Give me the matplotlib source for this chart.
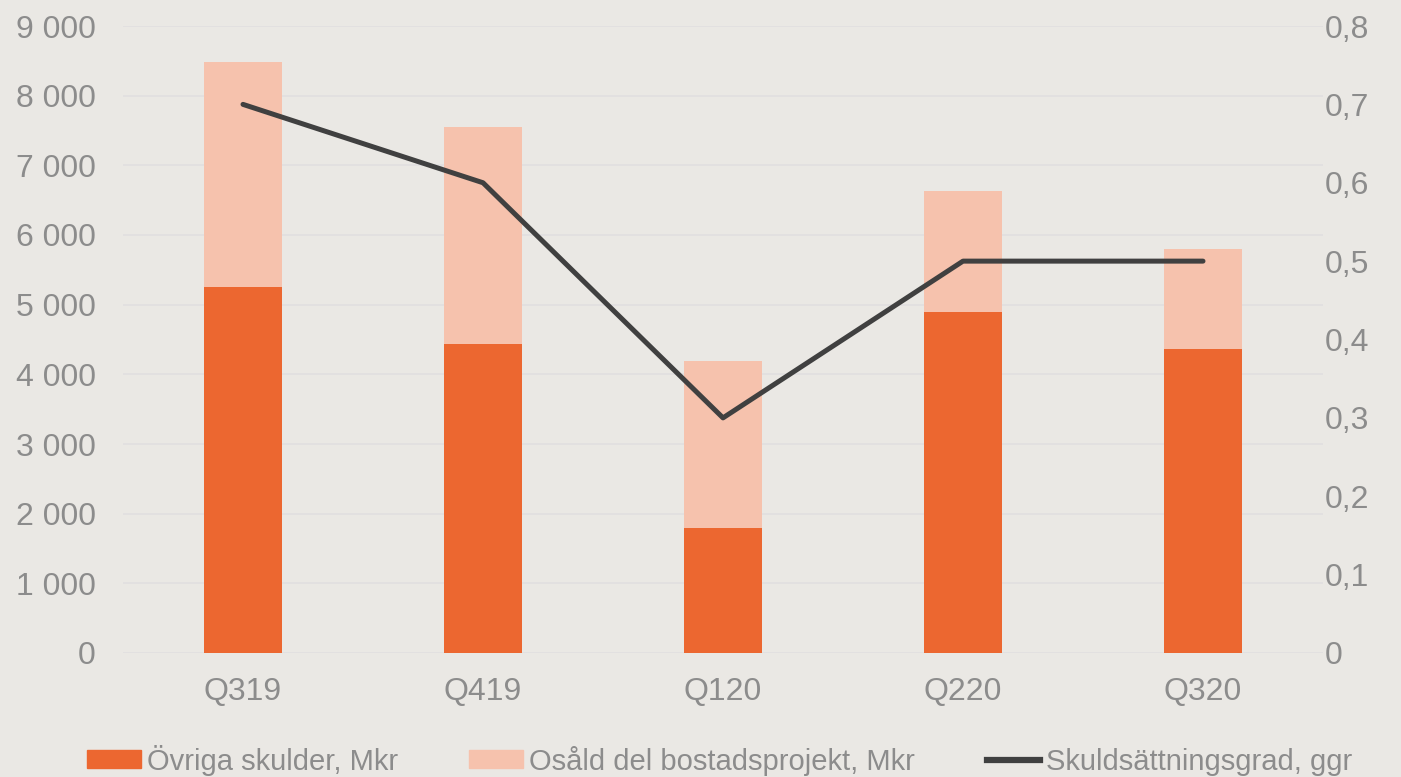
import matplotlib.pyplot as plt
import matplotlib.ticker as mticker
from matplotlib.lines import Line2D
from matplotlib.patches import Patch

plt.rcParams['font.family'] = ['Liberation Sans', 'DejaVu Sans']

# data
quarters = ['Q319', 'Q419', 'Q120', 'Q220', 'Q320']
ovriga = [5250, 4435, 1795, 4895, 4365]
osald = [3230, 3115, 2395, 1735, 1435]
skuld_grad = [0.7, 0.6, 0.3, 0.5, 0.5]

bg = '#EAE8E4'
dark_orange = '#EC6730'
light_orange = '#F6C2AD'
line_col = '#404040'
txt_col = '#8C8C8C'
grid_col = '#E1DFE0'

fig = plt.figure(figsize=(14.01, 7.77), dpi=100, facecolor=bg)
ax = fig.add_axes([123 / 1401, 124 / 777, 1200 / 1401, 627 / 777])
ax.set_facecolor(bg)

x = list(range(len(quarters)))
ax.bar(x, ovriga, width=0.325, color=dark_orange, zorder=2)
ax.bar(x, osald, width=0.325, bottom=ovriga, color=light_orange, zorder=2)

ax.set_xlim(-0.5, 4.5)
ax.set_ylim(0, 9000)
ax.set_yticks(range(0, 9001, 1000))
ax.yaxis.set_major_formatter(mticker.FuncFormatter(lambda v, p: f'{int(v):,}'.replace(',', ' ')))
ax.set_xticks(x)
ax.set_xticklabels(quarters)
ax.grid(axis='y', color=grid_col, linewidth=1.2, zorder=0)
for s in ax.spines.values():
    s.set_visible(False)
ax.tick_params(axis='y', length=0, pad=19.5, labelsize=23, labelcolor=txt_col)
ax.tick_params(axis='x', length=0, pad=17, labelsize=23, labelcolor=txt_col)

ax2 = ax.twinx()
ax2.plot(x, skuld_grad, color=line_col, linewidth=3.6, solid_capstyle='round', zorder=3)
ax2.set_ylim(0, 0.8)
ax2.set_yticks([i / 10 for i in range(9)])
ax2.yaxis.set_major_formatter(mticker.FuncFormatter(lambda v, p: f'{v:.1f}'.replace('.', ',') if v > 0 else '0'))
for s in ax2.spines.values():
    s.set_visible(False)
ax2.tick_params(axis='y', length=0, pad=1.5, labelsize=23, labelcolor=txt_col)

handles = [
    Patch(color=dark_orange),
    Patch(color=light_orange),
    Line2D([0], [0], color=line_col, linewidth=4.5),
]
labels = ['Övriga skulder, Mkr', 'Osåld del bostadsprojekt, Mkr', 'Skuldsättningsgrad, ggr']
leg = fig.legend(handles, labels, loc='center left', bbox_to_anchor=(87 / 1401, 1 - 760 / 777),
                 ncol=3, frameon=False, fontsize=21, handlelength=1.85, handleheight=0.55,
                 handletextpad=0.2, columnspacing=2.45, borderaxespad=0, borderpad=0)
for t in leg.get_texts():
    t.set_color(txt_col)

fig.savefig('out.png', dpi=100, facecolor=bg)
